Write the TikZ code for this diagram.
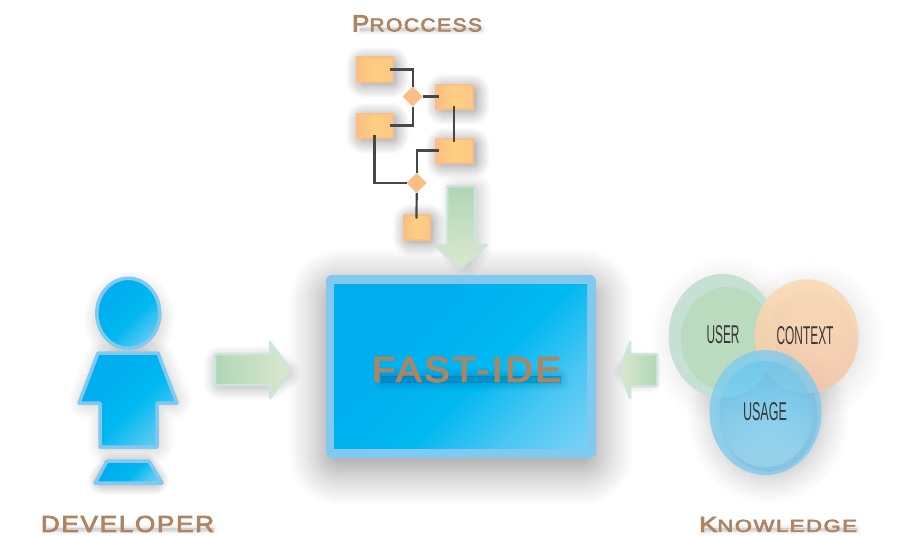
\documentclass[tikz,border=0pt]{standalone}
\usepackage{fontspec}
\usepackage{graphicx}
\setmainfont{Liberation Sans}
\newfontfamily\capfont[LetterSpace=7,FakeBold=3.5]{Liberation Sans}
\usetikzlibrary{shapes.geometric}
\definecolor{txtbrown}{HTML}{AE8563}
\definecolor{boxedge}{HTML}{82C9EF}
\definecolor{cyanA}{HTML}{00AEEF}
\definecolor{cyanM}{HTML}{00B8F0}
\definecolor{cyanC}{HTML}{48C6F3}
\definecolor{cyanB}{HTML}{78D2F6}
\definecolor{orgEdge}{HTML}{FBBE85}
\definecolor{orgA}{HTML}{F9AC80}
\definecolor{orgB}{HTML}{FDCF82}
\definecolor{grnEdge}{HTML}{CDE5DA}
\definecolor{grnA}{HTML}{AFD6B6}
\definecolor{grnB}{HTML}{DCE8CD}
\definecolor{userRim}{HTML}{C6E1D3}
\definecolor{userIn}{HTML}{BBDBBE}
\pgfdeclarehorizontalshading{cyanfade}{100bp}{color(0bp)=(cyanA); color(35bp)=(cyanA); color(55bp)=(cyanM); color(70bp)=(cyanC); color(85bp)=(cyanB); color(100bp)=(cyanB)}
\pgfdeclarehorizontalshading{boxfade}{100bp}{color(0bp)=(orgA); color(50bp)=(orgB); color(100bp)=(orgEdge)}
\tikzset{
  x=1pt,y=-1pt,
  flowbox/.style={rectangle,inner sep=0pt,outer sep=0pt,shading=boxfade,draw=orgEdge,line width=2pt},
  flowdiamond/.style={diamond,aspect=1,inner sep=0pt,outer sep=0pt,minimum size=20pt,fill=orgEdge},
  flowline/.style={draw=black!72,line width=2.2pt},
  lbl/.style={inner sep=0pt,outer sep=0pt,text=txtbrown},
  circlbl/.style={inner sep=0pt,outer sep=0pt,text=black!78},
  figure/.style={draw=boxedge,line width=3.5pt,line join=round,shading=cyanfade,shading angle=-45},
  blockarrow/.style={draw=grnEdge,line width=2.5pt,line join=round},
}
% soft shadow: dx, dy, largest stroke width, opacity per layer, path.
% The path is typed inset from the real shape, so the steep start of the fade stays hidden under it.
\newcommand\softsh[5]{%
  \foreach \ii in {1,...,24}{%
    \pgfmathsetmacro\rr{#3*pow(\ii/24,1.5)}%
    \path[draw=black,fill=black,line join=round,line width=\rr pt,opacity=#4,shift={(#1,#2)}] #5;
  }}
\newcommand\fittext[6]{\node[lbl] (#3) at (#1,#2) {\resizebox{#4pt}{#5pt}{#6}};}
\newcommand\fitlabel[6]{\node[circlbl] (#3) at (#1,#2) {\resizebox{#4pt}{#5pt}{#6}};}
\begin{document}
\begin{tikzpicture}
\useasboundingbox (0,0) rectangle (901,535);
\fill[white] (0,0) rectangle (901,535);

% --- soft shadows ---
\softsh{0}{10}{100}{0.016}{(340,290) rectangle (582,444)}
\softsh{1}{6}{40}{0.009}{(128.3,313.3) ellipse [x radius=26,y radius=29]}
\softsh{2}{2}{40}{0.009}{(102,358) -- (154,358) -- (170,398) -- (152,398) -- (152,442) -- (105,442) -- (105,398) -- (86,398) -- cycle}
\softsh{0}{2}{30}{0.016}{(111,466) -- (145,466) -- (154,478) -- (103,478) -- cycle}
\softsh{0}{3}{34}{0.012}{(221,360) -- (270,360) -- (284,370) -- (270,380) -- (221,380) -- cycle}
\softsh{-2}{1}{24}{0.008}{(627,370) -- (634,362) -- (652,362) -- (652,380) -- (634,380) -- cycle}
\softsh{4}{5}{60}{0.005}{(722.6,336) ellipse [x radius=47,y radius=55]}
\softsh{4}{5}{60}{0.005}{(806.7,336.3) ellipse [x radius=45,y radius=50]}
\softsh{3}{3}{64}{0.008}{(765.5,412.5) ellipse [x radius=49,y radius=56]}
\softsh{3}{3}{36}{0.014}{(361,62) rectangle (388,77)}
\softsh{3}{3}{36}{0.014}{(361,118) rectangle (388,133)}
\softsh{4}{3}{36}{0.014}{(440,89) rectangle (468,104)}
\softsh{4}{3}{36}{0.014}{(440,143) rectangle (468,158)}
\softsh{3}{3}{36}{0.014}{(408,219) rectangle (425,235)}
\softsh{5}{0}{34}{0.007}{(452,191) -- (470,191) -- (470,250) -- (461,260) -- (452,250) -- cycle}
% soft shadows behind the captions
\softsh{2}{0}{9}{0.004}{(358,28) rectangle (480,31)}
\softsh{2}{0}{9}{0.004}{(45,528) rectangle (212,531)}
\softsh{2}{0}{9}{0.004}{(703,528) rectangle (855,531)}

% --- labels ---
\fittext{417}{23.5}{tproc}{130}{16}{\capfont P{\fontsize{8}{8}\selectfont ROCCESS}}
\fittext{127.5}{524}{tdev}{173}{16}{\capfont DEVELOPER}
\fittext{778}{524.5}{tknow}{158}{15}{\capfont K{\fontsize{8}{8}\selectfont NOWLEDGE}}

% --- process flow ---
\node[flowbox,minimum width=36pt,minimum height=24pt] (b1) at (374.5,69.5) {};
\node[flowbox,minimum width=37pt,minimum height=24pt] (b2) at (454,96.5) {};
\node[flowbox,minimum width=36pt,minimum height=24pt] (b3) at (374.5,125.5) {};
\node[flowbox,minimum width=37pt,minimum height=24pt] (b4) at (454,150.5) {};
\node[flowbox,minimum width=26pt,minimum height=25pt] (b5) at (416.5,227) {};
\node[flowdiamond] (d1) at (412.7,96.5) {};
\node[flowdiamond] (d2) at (416.7,183) {};
\path[flowline] ([xshift=-3pt]b1.east) -| (d1.north);
\path[flowline] (d1.east) -- ([xshift=3pt]b2.west);
\path[flowline] ([xshift=-3pt]b3.east) -| (d1.south);
\path[flowline] ([yshift=3pt]b2.south) -- ([yshift=-3pt]b4.north);
\path[flowline] ([xshift=3pt]b4.west) -| (d2.north);
\path[flowline] ([yshift=3pt]b3.south) |- (d2.west);
\path[flowline] (d2.south) -- ([yshift=-4pt]b5.north);

% --- block arrow from process ---
\shade[blockarrow,top color=grnA,bottom color=grnB] (447,186) -- (475,186) -- (475,245) -- (487,245) -- (461,268) -- (434,245) -- (447,245) -- cycle;

% --- main box ---
\node[rectangle,rounded corners=6pt,inner sep=0pt,outer sep=0pt,minimum width=270pt,minimum height=183pt,fill=boxedge] (ide) at (461,366.5) {};
\shade[shading=cyanfade,shading angle=-45] (334,284) rectangle (587,448);
\softsh{3}{0}{18}{0.0035}{(378,376) rectangle (558,383)}
\fittext{466.5}{369.5}{tide}{189}{25}{\capfont FAST-IDE}

% --- developer figure ---
\shade[figure] (128.3,313.3) ellipse [x radius=31.5,y radius=35];
\shade[figure] (98,353) -- (158,353) -- (177,403) -- (157,403) -- (157,447) -- (100,447) -- (100,403) -- (79,403) -- cycle;
\shade[figure] (107,461) -- (149,461) -- (162,483) -- (95,483) -- cycle;

% --- side arrows ---
\shade[blockarrow,left color=grnA,right color=grnB] (215,354) -- (270,354) -- (270,342) -- (290,370) -- (270,398) -- (270,385) -- (215,385) -- cycle;
\shade[blockarrow,left color=grnB,right color=grnA] (620,370) -- (630,342) -- (630,354) -- (657,354) -- (657,386) -- (630,386) -- (630,398) -- cycle;

% --- knowledge circles ---
\fill[userRim] (722.6,336) ellipse [x radius=54,y radius=62];
\fill[userIn] (727,339) ellipse [x radius=46,y radius=52];
\shade[top color={rgb,255:red,252;green,218;blue,178},bottom color={rgb,255:red,247;green,200;blue,170},opacity=0.88] (806.7,336.3) ellipse [x radius=52,y radius=57];
\fill[color={rgb,255:red,125;green,203;blue,240},opacity=0.8] (765.5,412.5) ellipse [x radius=56,y radius=62.5];
\shade[top color=cyanA!80!white,bottom color=cyanB!40!white,opacity=0.3] (765.5,414) ellipse [x radius=47,y radius=53];
\fitlabel{723}{335}{tuser}{33}{18}{USER}
\fitlabel{805}{336}{tctx}{57}{18}{CONTEXT}
\fitlabel{765}{412}{tusage}{44}{18}{USAGE}
\end{tikzpicture}
\end{document}
